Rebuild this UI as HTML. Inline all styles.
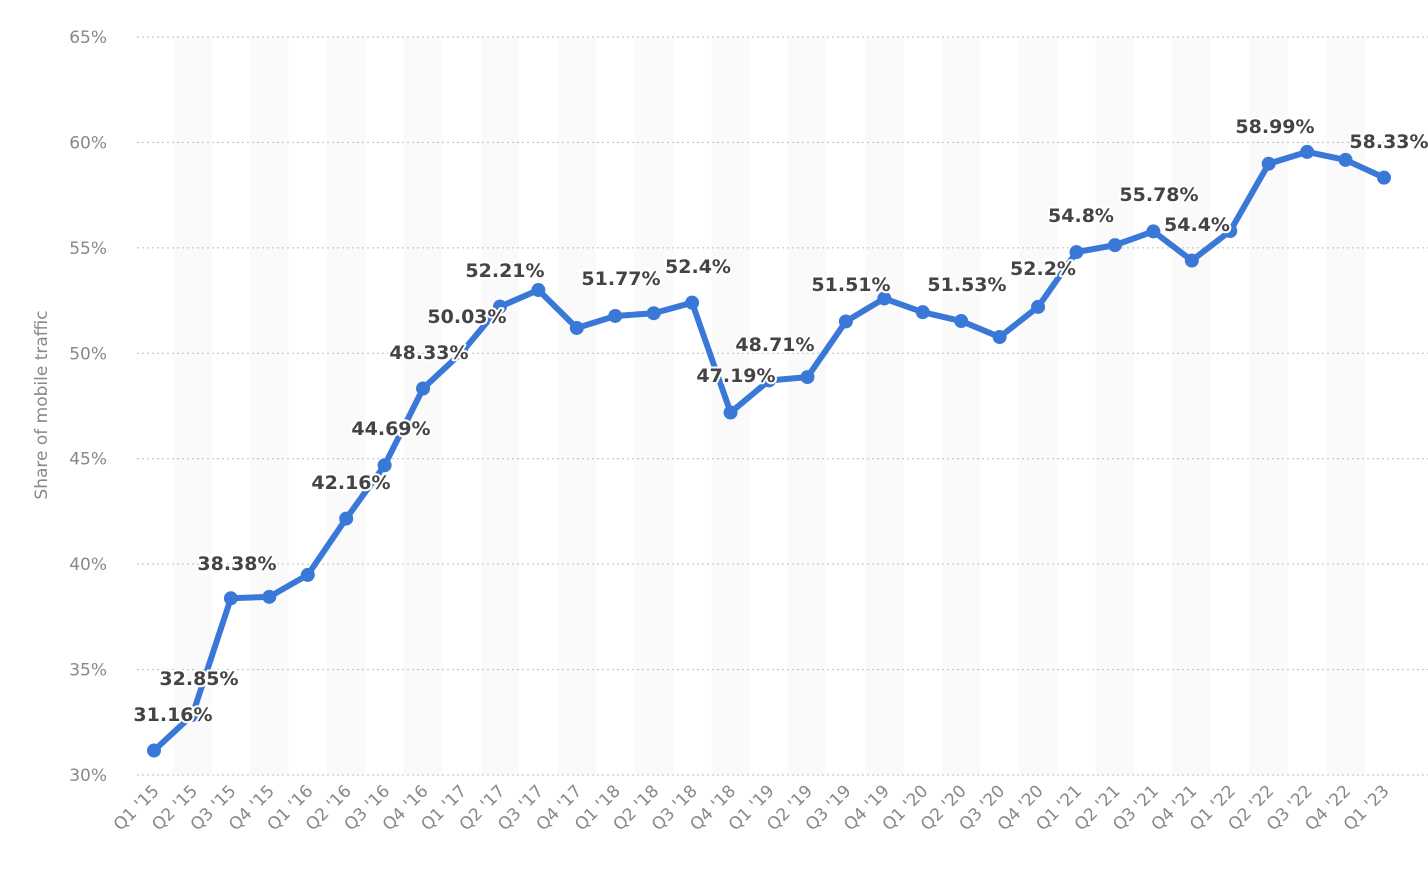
<!DOCTYPE html>
<html><head><meta charset="utf-8"><style>
html,body{margin:0;padding:0;background:#fff;}
svg{display:block;font-family:"DejaVu Sans","Liberation Sans",sans-serif;}
</style></head><body>
<svg width="1428" height="892" viewBox="0 0 1428 892" xmlns="http://www.w3.org/2000/svg">
<g id="bands" fill="#fafafa"></g>
<g id="grid" stroke="#bdbdbd" stroke-width="1" stroke-dasharray="2,3"></g>
<g id="ylab" fill="#888" font-size="17" text-anchor="end"></g>
<text transform="translate(47,405) rotate(-90)" text-anchor="middle" fill="#888" font-size="17">Share of mobile traffic</text>
<g id="xlab" fill="#888" font-size="17" text-anchor="end"></g>
<polyline id="line" fill="none" stroke="#3a78d8" stroke-width="6" stroke-linejoin="round" stroke-linecap="round"/>
<g id="dots" fill="#3a78d8"></g>
<g id="lbl" font-size="19" font-weight="bold" fill="#444" text-anchor="middle" stroke="#fff" stroke-width="4" paint-order="stroke" stroke-linejoin="round"></g>
</svg>
<script>
var ns="http://www.w3.org/2000/svg";
function el(p,t,a,txt){var e=document.createElementNS(ns,t);for(var k in a)e.setAttribute(k,a[k]);if(txt)e.textContent=txt;document.getElementById(p).appendChild(e);return e;}
var vals=[31.16,32.85,38.38,38.45,39.49,42.16,44.69,48.33,50.03,52.21,53.0,51.2,51.77,51.9,52.4,47.19,48.71,48.87,51.51,52.6,51.95,51.53,50.77,52.2,54.8,55.13,55.78,54.4,55.8,58.99,59.55,59.17,58.33];
var X0=154,DX=(1384-154)/32;
function Y(v){return 775-(v-30)*(738/35);}
for(var i=0;i<33;i++){
 if(i%2==1) el("bands","rect",{x:X0+i*DX-DX/2,y:37,width:DX,height:738});
}
for(var v=30;v<=65;v+=5){
 var y=Y(v);
 el("grid","line",{x1:137,x2:1428,y1:y,y2:y});
 el("ylab","text",{x:107,y:y+6},v+"%");
}
var q=[];for(var yr=15;yr<=23;yr++)for(var k=1;k<=4;k++){if(yr==23&&k>1)break;q.push("Q"+k+" '"+yr);}
var pts=[];
for(var i=0;i<33;i++){
 var x=X0+i*DX,y=Y(vals[i]);pts.push(x+","+y);
 el("dots","circle",{cx:x,cy:y,r:7});
 el("xlab","text",{x:x+6,y:792,transform:"rotate(-45 "+(x+6)+" 792)"},q[i]);
}
document.getElementById("line").setAttribute("points",pts.join(" "));
var L=[[173,721,"31.16%"],[199,685,"32.85%"],[237,570,"38.38%"],[351,489,"42.16%"],[391,435,"44.69%"],[429,359,"48.33%"],[467,323,"50.03%"],[505,277,"52.21%"],[621,285,"51.77%"],[698,273,"52.4%"],[736,382,"47.19%"],[775,351,"48.71%"],[851,291,"51.51%"],[967,291,"51.53%"],[1043,275,"52.2%"],[1081,222,"54.8%"],[1159,201,"55.78%"],[1197,231,"54.4%"],[1275,133,"58.99%"],[1389,148,"58.33%"]];
L.forEach(function(l){el("lbl","text",{x:l[0],y:l[1]},l[2]);});
</script>
</body></html>
